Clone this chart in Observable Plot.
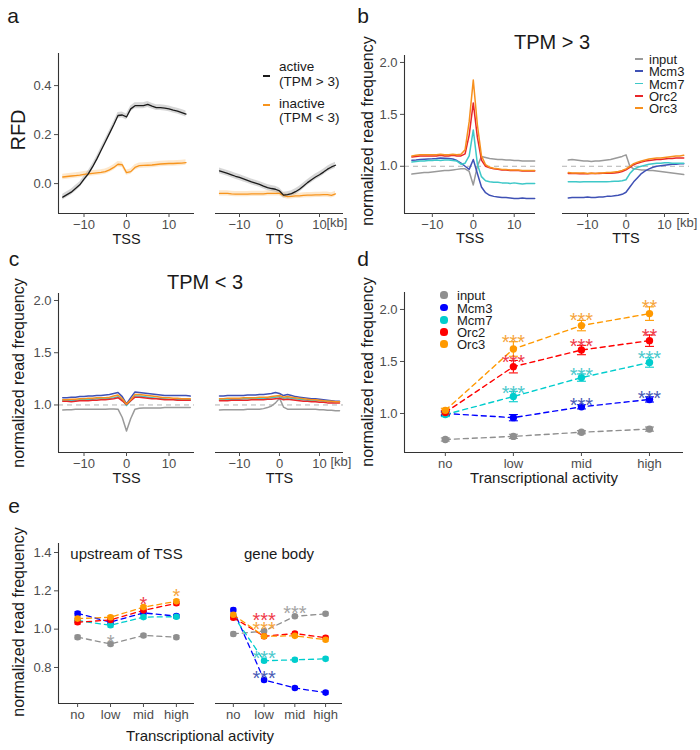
<!DOCTYPE html>
<html><head><meta charset="utf-8">
<script src="https://cdn.jsdelivr.net/npm/d3@7"></script>
<script src="https://cdn.jsdelivr.net/npm/@observablehq/plot@0.6"></script>
<style>
body{margin:0;background:#fff;font-family:"Liberation Sans",Arial,sans-serif;}
#root{position:relative;width:700px;height:750px;overflow:hidden;background:#fff;}
#root svg{position:absolute;overflow:visible;}
.t{position:absolute;white-space:nowrap;color:#1a1a1a;line-height:1;}
</style></head><body><div id="root"></div>
<script>
// ---------- shared categories ----------
const seriesNames = ["input","Mcm3","Mcm7","Orc2","Orc3"];
const lineColors = ["#9a9a9a","#3f51b5","#3ec8c8","#e8262a","#f7901e"];
const dotColors  = ["#8f8f8f","#0000ff","#00cdcd","#ff0000","#ff9900"];
const starColors = ["#a3a3a3","#4a5bb5","#4ac8cc","#ef3b4a","#f6a53c"];
const levels = ["no","low","mid","high"];
const levelPos = [0,1,2,3];
const kbTicks = [-10,0,10];

// ---------- panel a (RFD) ----------
const kbA = [-15,-14,-13,-12,-11,-10,-9,-8,-7,-6,-5,-4,-3,-2,-1,0,1,2,3,4,5,6,7,8,9,10,11,12,13,14];
const aActiveTSS = [-0.055,-0.045,-0.035,-0.02,-0.005,0.018,0.04,0.068,0.1,0.135,0.17,0.205,0.24,0.278,0.28,0.272,0.305,0.318,0.318,0.318,0.323,0.316,0.31,0.31,0.308,0.305,0.3,0.296,0.29,0.284];
const aInactiveTSS = [0.027,0.029,0.031,0.033,0.035,0.038,0.04,0.042,0.044,0.046,0.049,0.056,0.066,0.079,0.077,0.045,0.049,0.066,0.073,0.074,0.075,0.076,0.078,0.08,0.081,0.082,0.082,0.083,0.084,0.086];
const aActiveTTS = [0.052,0.047,0.042,0.036,0.03,0.025,0.019,0.013,0.007,0.002,-0.003,-0.01,-0.016,-0.02,-0.023,-0.03,-0.047,-0.045,-0.041,-0.033,-0.023,-0.01,0.004,0.016,0.027,0.036,0.047,0.059,0.068,0.075];
const aInactiveTTS = [-0.04,-0.04,-0.04,-0.042,-0.043,-0.043,-0.043,-0.043,-0.042,-0.042,-0.042,-0.042,-0.04,-0.04,-0.04,-0.04,-0.048,-0.053,-0.052,-0.05,-0.05,-0.048,-0.047,-0.047,-0.046,-0.046,-0.045,-0.045,-0.048,-0.042];
const aSE = [0.012, 0.011]; // active, inactive ribbon half-widths

// ---------- panels b / c (profiles) ----------
const kb = [-15,-14,-13,-12,-11,-10,-9,-8,-7,-6,-5,-4,-3,-2,-1,0,1,2,3,4,5,6,7,8,9,10,11,12,13,14,15];
// b: TPM > 3, TSS
const bTssInput = [0.925,0.93,0.935,0.94,0.94,0.945,0.95,0.955,0.96,0.96,0.965,0.97,0.975,0.975,0.95,0.82,1.0,1.095,1.085,1.075,1.07,1.065,1.065,1.06,1.06,1.055,1.055,1.05,1.05,1.05,1.05];
const bTssMcm3  = [1.058,1.06,1.065,1.068,1.07,1.072,1.075,1.08,1.078,1.075,1.07,1.055,1.03,1.0,0.97,1.065,0.93,0.8,0.745,0.72,0.71,0.705,0.7,0.7,0.695,0.69,0.69,0.695,0.69,0.69,0.69];
const bTssMcm7  = [1.042,1.045,1.05,1.05,1.055,1.055,1.06,1.055,1.06,1.06,1.055,1.05,1.02,1.03,1.1,1.35,1.02,0.9,0.86,0.85,0.845,0.845,0.84,0.84,0.835,0.84,0.835,0.83,0.835,0.835,0.835];
const bTssOrc2  = [1.09,1.095,1.1,1.1,1.1,1.1,1.1,1.105,1.1,1.1,1.105,1.1,1.1,1.12,1.3,1.61,1.28,1.06,1.0,0.985,0.975,0.97,0.965,0.965,0.96,0.96,0.96,0.955,0.955,0.955,0.955];
const bTssOrc3  = [1.1,1.105,1.11,1.11,1.11,1.11,1.11,1.115,1.11,1.11,1.115,1.11,1.115,1.16,1.43,1.83,1.4,1.1,1.015,0.99,0.98,0.975,0.97,0.97,0.965,0.965,0.965,0.96,0.96,0.96,0.96];
// b: TPM > 3, TTS
const bTtsInput = [1.06,1.065,1.06,1.055,1.05,1.05,1.045,1.05,1.05,1.055,1.06,1.065,1.075,1.085,1.095,1.11,1.0,0.975,0.97,0.965,0.965,0.96,0.96,0.955,0.95,0.945,0.94,0.935,0.93,0.925,0.92];
const bTtsMcm3  = [0.695,0.7,0.7,0.7,0.7,0.705,0.7,0.7,0.705,0.705,0.71,0.71,0.715,0.72,0.73,0.75,0.8,0.85,0.89,0.93,0.955,0.975,0.99,1.0,1.005,1.01,1.015,1.02,1.02,1.025,1.025];
const bTtsMcm7  = [0.85,0.85,0.85,0.848,0.85,0.85,0.85,0.852,0.85,0.852,0.852,0.853,0.855,0.855,0.86,0.87,0.93,0.97,0.99,1.0,1.01,1.02,1.025,1.03,1.03,1.035,1.035,1.03,1.03,1.03,1.03];
const bTtsOrc2  = [0.93,0.93,0.93,0.928,0.93,0.928,0.93,0.93,0.93,0.932,0.932,0.933,0.935,0.94,0.95,0.965,0.99,1.015,1.03,1.04,1.05,1.055,1.06,1.065,1.065,1.07,1.075,1.075,1.08,1.08,1.08];
const bTtsOrc3  = [0.94,0.935,0.935,0.935,0.935,0.93,0.935,0.93,0.935,0.935,0.94,0.94,0.945,0.95,0.96,0.975,1.0,1.025,1.04,1.05,1.06,1.07,1.075,1.08,1.08,1.085,1.09,1.095,1.1,1.1,1.105];
// c: TPM < 3, TSS
const cTssInput = [0.952,0.955,0.955,0.96,0.96,0.96,0.96,0.96,0.96,0.96,0.96,0.962,0.962,0.96,0.88,0.75,0.87,0.96,0.968,0.97,0.97,0.972,0.97,0.972,0.975,0.975,0.975,0.975,0.975,0.975,0.975];
const cTssMcm3  = [1.07,1.07,1.075,1.075,1.08,1.08,1.085,1.085,1.09,1.09,1.095,1.1,1.11,1.12,1.08,1.01,1.07,1.125,1.12,1.115,1.11,1.105,1.1,1.095,1.09,1.09,1.09,1.09,1.09,1.09,1.085];
const cTssMcm7  = [1.045,1.04,1.045,1.045,1.05,1.05,1.05,1.055,1.06,1.06,1.06,1.065,1.07,1.08,1.05,0.995,1.04,1.085,1.085,1.08,1.075,1.07,1.065,1.06,1.06,1.055,1.055,1.05,1.05,1.05,1.05];
const cTssOrc2  = [1.035,1.035,1.03,1.035,1.04,1.04,1.04,1.045,1.045,1.05,1.05,1.055,1.06,1.07,1.04,1.005,1.04,1.075,1.075,1.07,1.065,1.06,1.06,1.055,1.05,1.05,1.05,1.045,1.045,1.045,1.045];
const cTssOrc3  = [1.05,1.05,1.055,1.055,1.06,1.06,1.065,1.065,1.07,1.07,1.07,1.075,1.085,1.095,1.06,1.01,1.05,1.1,1.1,1.095,1.09,1.085,1.08,1.075,1.07,1.07,1.065,1.065,1.06,1.06,1.06];
// c: TPM < 3, TTS
const cTtsInput = [0.952,0.955,0.955,0.955,0.955,0.955,0.955,0.96,0.96,0.96,0.96,0.965,0.975,0.99,1.02,1.065,0.98,0.96,0.96,0.96,0.96,0.958,0.96,0.96,0.958,0.955,0.955,0.95,0.95,0.945,0.945];
const cTtsMcm3  = [1.085,1.085,1.09,1.09,1.09,1.09,1.09,1.095,1.095,1.095,1.1,1.1,1.105,1.11,1.12,1.11,1.09,1.1,1.09,1.08,1.075,1.07,1.065,1.06,1.06,1.055,1.05,1.045,1.04,1.035,1.035];
const cTtsMcm7  = [1.05,1.05,1.055,1.055,1.055,1.055,1.06,1.06,1.06,1.06,1.065,1.065,1.065,1.07,1.075,1.08,1.065,1.07,1.065,1.06,1.055,1.05,1.045,1.045,1.04,1.04,1.035,1.035,1.03,1.03,1.03];
const cTtsOrc2  = [1.04,1.04,1.04,1.045,1.045,1.045,1.045,1.045,1.05,1.05,1.05,1.05,1.055,1.055,1.06,1.065,1.05,1.055,1.05,1.045,1.04,1.035,1.035,1.03,1.03,1.025,1.025,1.02,1.02,1.02,1.02];
const cTtsOrc3  = [1.06,1.06,1.065,1.065,1.065,1.065,1.07,1.07,1.07,1.07,1.075,1.075,1.075,1.08,1.085,1.09,1.075,1.08,1.075,1.07,1.065,1.06,1.055,1.05,1.05,1.045,1.04,1.035,1.035,1.03,1.03];

// ---------- panel d ----------
const dInput = [0.75,0.78,0.82,0.85];
const dMcm3  = [1.0,0.96,1.064,1.135];
const dMcm7  = [0.99,1.163,1.345,1.49];
const dOrc2  = [1.01,1.45,1.61,1.70];
const dOrc3  = [1.03,1.62,1.845,1.96];
const dInputErr = [0.015,0.02,0.015,0.02];
const dMcm3Err  = [0.02,0.03,0.02,0.025];
const dMcm7Err  = [0.02,0.05,0.035,0.045];
const dOrc2Err  = [0.02,0.06,0.045,0.055];
const dOrc3Err  = [0.02,0.07,0.05,0.065];
const dStarSeries = ["Orc3","Orc3","Orc3","Orc2","Orc2","Orc2","Mcm7","Mcm7","Mcm7","Mcm3","Mcm3"];
const dStarLevel  = ["low","mid","high","low","mid","high","low","mid","high","mid","high"];
const dStarY      = [1.735,1.95,2.07,1.545,1.695,1.79,1.245,1.415,1.585,1.13,1.195];
const dStarText   = ["***","***","**","***","***","**","***","***","***","***","***"];

// ---------- panel e ----------
const eUpInput = [0.958,0.923,0.967,0.958];
const eUpMcm3  = [1.082,1.037,1.085,1.068];
const eUpMcm7  = [1.045,1.02,1.063,1.065];
const eUpOrc2  = [1.036,1.048,1.098,1.135];
const eUpOrc3  = [1.055,1.062,1.115,1.145];
const eGbInput = [0.975,0.99,1.067,1.08];
const eGbMcm3  = [1.1,0.735,0.693,0.669];
const eGbMcm7  = [1.07,0.835,0.84,0.845];
const eGbOrc2  = [1.06,0.963,0.977,0.955];
const eGbOrc3  = [1.075,0.963,0.965,0.945];
const eErr = [0.01,0.009,0.008,0.009];
const eUpStarSeries = ["input","Orc2","Orc3"];
const eUpStarLevel  = ["low","mid","high"];
const eUpStarY      = [0.958,1.158,1.198];
const eUpStarText   = ["*","*","*"];
const eGbStarSeries = ["Orc2","Orc3","input","Mcm7","Mcm3"];
const eGbStarLevel  = ["low","low","mid","low","low"];
const eGbStarY      = [1.071,1.024,1.111,0.877,0.771];
const eGbStarText   = ["***","***","***","***","***"];

// ================= drawing =================
const root = document.getElementById("root");
const FONT = '"Liberation Sans", Arial, sans-serif';
const TICKC = "#4d4d4d", AXC = "#333333", TXT = "#1a1a1a";
const TICKF = 13, STARF = 20, TPAD = 2.5;
const fmtKb = d => d < 0 ? "\u2212" + (-d) : String(d);
const fmt1 = d3.format(".1f");

function place(svg, left, top) {
  svg.style.left = left + "px"; svg.style.top = top + "px";
  root.appendChild(svg);
}
function txt(s, x, y, {size = 13, color = TXT, anchor = "middle", rotate = 0} = {}) {
  const d = document.createElement("div");
  d.className = "t"; d.textContent = s;
  d.style.left = x + "px"; d.style.top = y + "px";
  d.style.fontSize = size + "px"; d.style.color = color;
  const tx = anchor === "middle" ? "-50%" : anchor === "start" ? "0%" : "-100%";
  d.style.transform = `translate(${tx},-50%)` + (rotate ? ` rotate(${rotate}deg)` : "");
  root.appendChild(d);
}
function rowsOf(x, arrays) {
  const rows = [];
  seriesNames.forEach((s, k) => arrays[k].forEach((v, i) => rows.push({x: x[i], v, s})));
  return rows;
}
const baseStyle = {fontFamily: FONT, background: "transparent", overflow: "visible"};

function curvePlot({left, top, width, height, mL, mR, mT, mB, xDom, yDom, yTicks, yAxis, marks, color, axisLabel, labelDy, kbDx}) {
  const m = [...marks];
  m.push(Plot.ruleY([yDom[0]], {stroke: AXC, strokeWidth: 1.1}));
  if (yAxis) {
    m.push(Plot.ruleX([xDom[0]], {stroke: AXC, strokeWidth: 1.1}));
    m.push(Plot.axisY({ticks: yTicks, tickFormat: fmt1, tickSize: 4, tickPadding: 3, fontSize: TICKF, color: TICKC, label: null}));
  }
  m.push(Plot.axisX({ticks: kbTicks, tickFormat: fmtKb, tickSize: 4, tickPadding: TPAD, fontSize: TICKF, color: TICKC, label: null}));
  m.push(Plot.text([axisLabel], {frameAnchor: "bottom", dy: labelDy, fontSize: 14.5, fill: TXT}));
  if (kbDx != null) m.push(Plot.text([{x: 10, t: "[kb]"}], {x: "x", text: "t", frameAnchor: "bottom", dy: 13.5, dx: kbDx, textAnchor: "start", fontSize: TICKF, fill: TICKC}));
  const opts = {width, height, marginLeft: mL, marginRight: mR, marginTop: mT, marginBottom: mB,
    style: baseStyle, x: {domain: xDom}, y: {domain: yDom}, marks: m};
  if (!yAxis) opts.y.axis = null;
  if (color) opts.color = color;
  place(Plot.plot(opts), left, top);
}

// ---- panel a ----
function aMarks(active, inactive) {
  const act = kbA.map((x, i) => ({x, v: active[i]}));
  const ina = kbA.map((x, i) => ({x, v: inactive[i]}));
  return [
    Plot.areaY(ina, {x: "x", y1: d => d.v - aSE[1], y2: d => d.v + aSE[1], fill: "#f7941d", fillOpacity: 0.22}),
    Plot.areaY(act, {x: "x", y1: d => d.v - aSE[0], y2: d => d.v + aSE[0], fill: "#8c8c8c", fillOpacity: 0.35}),
    Plot.lineY(ina, {x: "x", y: "v", stroke: "#f7941d", strokeWidth: 1.3}),
    Plot.lineY(act, {x: "x", y: "v", stroke: "#1a1a1a", strokeWidth: 1.3})
  ];
}
const aY = [-0.122, 0.531];
curvePlot({left: 0, top: 30, width: 200, height: 230, mL: 58, mR: 6, mT: 23, mB: 47, xDom: [-16, 16], yDom: aY,
  yTicks: [0, 0.2, 0.4], yAxis: true, marks: aMarks(aActiveTSS, aInactiveTSS), axisLabel: "TSS", labelDy: 30});
curvePlot({left: 200, top: 30, width: 150, height: 230, mL: 15, mR: 7, mT: 23, mB: 47, xDom: [-16, 16], yDom: aY,
  yAxis: false, marks: aMarks(aActiveTTS, aInactiveTTS), axisLabel: "TTS", labelDy: 30, kbDx: 7});

// ---- panels b, c ----
const profColor = {domain: seriesNames, range: lineColors};
function profMarks(rows) {
  return [
    Plot.ruleY([1], {stroke: "#b3b3b3", strokeDasharray: "5,4", strokeWidth: 1}),
    Plot.line(rows, {x: "x", y: "v", z: "s", stroke: "s", strokeWidth: 1.5})
  ];
}
const bcY = [0.545, 2.067];
curvePlot({left: 350, top: 30, width: 190, height: 230, mL: 54, mR: 5, mT: 25, mB: 47, xDom: [-16.8, 15.2], yDom: bcY,
  yTicks: [1, 1.5, 2], yAxis: true, color: profColor,
  marks: profMarks(rowsOf(kb, [bTssInput, bTssMcm3, bTssMcm7, bTssOrc2, bTssOrc3])), axisLabel: "TSS", labelDy: 29.5});
curvePlot({left: 540, top: 30, width: 160, height: 230, mL: 22, mR: 11, mT: 25, mB: 47, xDom: [-16.5, 16.5], yDom: bcY,
  yAxis: false, color: profColor,
  marks: profMarks(rowsOf(kb, [bTtsInput, bTtsMcm3, bTtsMcm7, bTtsOrc2, bTtsOrc3])), axisLabel: "TTS", labelDy: 29.5, kbDx: 12});
curvePlot({left: 0, top: 270, width: 200, height: 230, mL: 58, mR: 6, mT: 23, mB: 48, xDom: [-16, 16], yDom: bcY,
  yTicks: [1, 1.5, 2], yAxis: true, color: profColor,
  marks: profMarks(rowsOf(kb, [cTssInput, cTssMcm3, cTssMcm7, cTssOrc2, cTssOrc3])), axisLabel: "TSS", labelDy: 30.5});
curvePlot({left: 200, top: 270, width: 150, height: 230, mL: 15, mR: 7, mT: 23, mB: 48, xDom: [-16, 16], yDom: bcY,
  yAxis: false, color: profColor,
  marks: profMarks(rowsOf(kb, [cTtsInput, cTtsMcm3, cTtsMcm7, cTtsOrc2, cTtsOrc3])), axisLabel: "TTS", labelDy: 30.5, kbDx: 11});

// ---- point panels (d, e) ----
const dotColor = {domain: seriesNames, range: dotColors};
function catRows(means, errs) {
  const rows = [];
  seriesNames.forEach((s, k) => levels.forEach((l, i) => rows.push({i: levelPos[i], v: means[k][i], e: errs[k][i], s})));
  return rows;
}
function starMarks(series, lev, ys, texts) {
  return seriesNames.map((s, k) => {
    const data = series.map((ss, j) => ({ss, i: levelPos[levels.indexOf(lev[j])], y: ys[j], t: texts[j]})).filter(d => d.ss === s);
    return Plot.text(data, {x: "i", y: "y", text: "t", fill: starColors[k], fontSize: STARF, dy: 5.5});
  });
}
function pointMarks(rows, r, cap, sw) {
  return [
    Plot.line(rows, {x: "i", y: "v", z: "s", stroke: "s", strokeDasharray: "5,4", strokeWidth: sw}),
    Plot.ruleX(rows, {x: "i", y1: d => d.v - d.e, y2: d => d.v + d.e, stroke: "s", strokeWidth: 1.1}),
    Plot.link(rows, {x1: d => d.i - cap, x2: d => d.i + cap, y1: d => d.v + d.e, y2: d => d.v + d.e, stroke: "s", strokeWidth: 1.1}),
    Plot.link(rows, {x1: d => d.i - cap, x2: d => d.i + cap, y1: d => d.v - d.e, y2: d => d.v - d.e, stroke: "s", strokeWidth: 1.1}),
    Plot.dot(rows, {x: "i", y: "v", fill: "s", r})
  ];
}
function catAxisMarks(xDom, yDom, yTicks, yAxis) {
  const m = [Plot.ruleY([yDom[0]], {stroke: AXC, strokeWidth: 1.1})];
  if (yAxis) {
    m.push(Plot.ruleX([xDom[0]], {stroke: AXC, strokeWidth: 1.1}));
    m.push(Plot.axisY({ticks: yTicks, tickFormat: fmt1, tickSize: 4, tickPadding: 3, fontSize: TICKF, color: TICKC, label: null}));
  }
  m.push(Plot.axisX({ticks: levelPos, tickFormat: i => levels[i], tickSize: 4, tickPadding: TPAD, fontSize: TICKF, color: TICKC, label: null}));
  return m;
}

// panel d
const dXDom = [-0.6, 3.5], dYDom = [0.625, 2.163];
const dRows = catRows([dInput, dMcm3, dMcm7, dOrc2, dOrc3], [dInputErr, dMcm3Err, dMcm7Err, dOrc2Err, dOrc3Err]);
place(Plot.plot({
  width: 350, height: 225, marginLeft: 54, marginRight: 17, marginTop: 22, marginBottom: 43,
  style: baseStyle, x: {domain: dXDom}, y: {domain: dYDom}, color: dotColor,
  marks: [
    ...pointMarks(dRows, 3.7, 0.066, 1.4),
    ...starMarks(dStarSeries, dStarLevel, dStarY, dStarText),
    ...catAxisMarks(dXDom, dYDom, [1, 1.5, 2], true),
    Plot.text(["Transcriptional activity"], {frameAnchor: "bottom", dy: 30, fontSize: 15, fill: TXT})
  ]
}), 350, 270);

// panel e
const eXDom = [-0.58, 3.55], eYDom = [0.612, 1.447];
const eErrs = [eErr, eErr, eErr, eErr, eErr];
const eUpRows = catRows([eUpInput, eUpMcm3, eUpMcm7, eUpOrc2, eUpOrc3], eErrs);
const eGbRows = catRows([eGbInput, eGbMcm3, eGbMcm7, eGbOrc2, eGbOrc3], eErrs);
place(Plot.plot({
  width: 200, height: 230, marginLeft: 58, marginRight: 6, marginTop: 23, marginBottom: 47,
  style: baseStyle, x: {domain: eXDom}, y: {domain: eYDom}, color: dotColor,
  marks: [
    ...pointMarks(eUpRows, 3.3, 0.09, 1.3),
    ...starMarks(eUpStarSeries, eUpStarLevel, eUpStarY, eUpStarText),
    ...catAxisMarks(eXDom, eYDom, [0.8, 1.0, 1.2, 1.4], true),
    Plot.text(["upstream of TSS"], {frameAnchor: "top", dy: 5, fontSize: 15, fill: TXT})
  ]
}), 0, 520);
place(Plot.plot({
  width: 150, height: 230, marginLeft: 15, marginRight: 8, marginTop: 23, marginBottom: 47,
  style: baseStyle, x: {domain: eXDom}, y: {domain: eYDom, axis: null}, color: dotColor,
  marks: [
    ...pointMarks(eGbRows, 3.3, 0.09, 1.3),
    ...starMarks(eGbStarSeries, eGbStarLevel, eGbStarY, eGbStarText),
    ...catAxisMarks(eXDom, eYDom, null, false),
    Plot.text(["gene body"], {frameAnchor: "top", dy: 5, fontSize: 15, fill: TXT})
  ]
}), 200, 520);

// ---------- text labels ----------
txt("a", 13, 15, {size: 21}); txt("b", 363, 15, {size: 21});
txt("c", 14, 258, {size: 21}); txt("d", 363, 258, {size: 21}); txt("e", 14, 505, {size: 21});
txt("TPM > 3", 552, 42, {size: 20});
txt("TPM < 3", 205, 282, {size: 20});
txt("RFD", 18, 130, {size: 20, rotate: -90});
txt("normalized read frequency", 368, 131, {size: 16, rotate: -90});
txt("normalized read frequency", 19, 373, {size: 16, rotate: -90});
txt("normalized read frequency", 368, 372, {size: 16, rotate: -90});
txt("normalized read frequency", 19, 622, {size: 16, rotate: -90});
txt("Transcriptional activity", 200, 735, {size: 15});

// ---------- legends ----------
function swatchLine(x, y, w, color) {
  const d = document.createElement("div");
  d.style.cssText = `position:absolute;left:${x}px;top:${y - 0.7}px;width:${w}px;height:1.4px;background:${color}`;
  root.appendChild(d);
}
function swatchDot(x, y, r, color) {
  const d = document.createElement("div");
  d.style.cssText = `position:absolute;left:${x - r}px;top:${y - r}px;width:${2 * r}px;height:${2 * r}px;border-radius:50%;background:${color}`;
  root.appendChild(d);
}
// panel a legend
const aLegendLabels = [["active", "(TPM > 3)"], ["inactive", "(TPM < 3)"]];
const aLegendColors = ["#1a1a1a", "#f7941d"];
const aLegendY = [[67, 82, 76], [104, 118, 105]];
aLegendLabels.forEach((lab, k) => {
  swatchLine(263, aLegendY[k][2], 7, aLegendColors[k]);
  txt(lab[0], 279, aLegendY[k][0], {size: 13.5, anchor: "start"});
  txt(lab[1], 279, aLegendY[k][1], {size: 13.5, anchor: "start"});
});
// panel b legend
const bLegendY = [59, 71, 83.5, 96, 108];
seriesNames.forEach((s, k) => {
  swatchLine(635, bLegendY[k], 8, lineColors[k]);
  txt(s, 649, bLegendY[k], {size: 13, anchor: "start"});
});
// panel d legend
const dLegendY = [295, 307.5, 320, 332, 344];
seriesNames.forEach((s, k) => {
  swatchDot(444, dLegendY[k], 3.6, dotColors[k]);
  txt(s, 457, dLegendY[k], {size: 13, anchor: "start"});
});
</script></body></html>
